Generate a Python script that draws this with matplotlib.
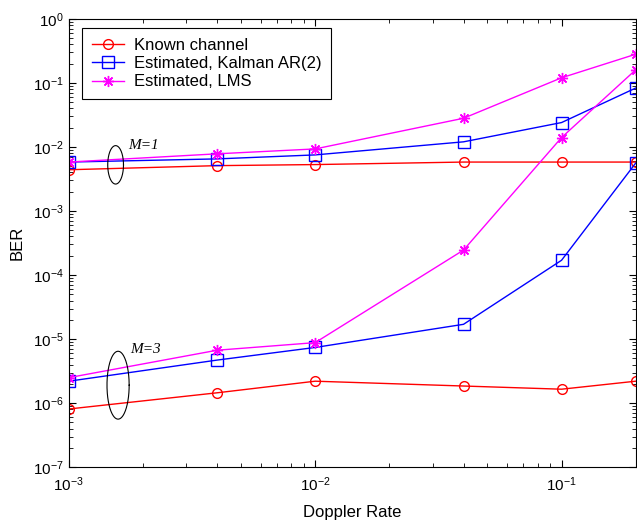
import matplotlib
matplotlib.use("Agg")
import matplotlib.pyplot as plt
import numpy as np

plt.rcParams['font.family'] = ['Liberation Sans', 'DejaVu Sans']
plt.rcParams['mathtext.fontset'] = 'custom'
plt.rcParams['mathtext.rm'] = 'Liberation Sans'
plt.rcParams['mathtext.it'] = 'Liberation Sans:italic'

# Doppler rates
doppler = [1e-3, 4e-3, 1e-2, 4e-2, 1e-1, 2e-1]

# M = 1
known_m1 = [4.4e-3, 5.1e-3, 5.3e-3, 5.8e-3, 5.8e-3, 5.8e-3]
kalman_m1 = [5.8e-3, 6.5e-3, 7.5e-3, 1.2e-2, 2.4e-2, 8.3e-2]
lms_m1 = [5.8e-3, 7.8e-3, 9.3e-3, 2.8e-2, 1.2e-1, 2.8e-1]

# M = 3
known_m3 = [8.1e-7, 1.45e-6, 2.2e-6, 1.85e-6, 1.65e-6, 2.2e-6]
kalman_m3 = [2.2e-6, 4.7e-6, 7.4e-6, 1.7e-5, 1.7e-4, 5.6e-3]
lms_m3 = [2.5e-6, 6.7e-6, 8.8e-6, 2.45e-4, 1.4e-2, 1.6e-1]

fig = plt.figure(figsize=(6.37, 5.22), dpi=100)
ax = fig.add_axes([0.108, 0.105, 0.89, 0.859])

star = (8, 2, 0)  # matlab-style asterisk
ax.loglog(doppler, known_m1, '-o', color='red', mfc='none', ms=7, lw=1, label='Known channel')
ax.loglog(doppler, kalman_m1, '-s', color='blue', mfc='none', ms=8, lw=1, label='Estimated, Kalman AR(2)')
ax.loglog(doppler, lms_m1, '-', marker=star, color='magenta', ms=8, mew=1, lw=1, label='Estimated, LMS')
ax.loglog(doppler, known_m3, '-o', color='red', mfc='none', ms=7, lw=1)
ax.loglog(doppler, kalman_m3, '-s', color='blue', mfc='none', ms=8, lw=1)
ax.loglog(doppler, lms_m3, '-', marker=star, color='magenta', ms=8, mew=1, lw=1)

# ellipses marking the two groups (drawn in log space)
t = np.linspace(0, 2 * np.pi, 200)
ax.plot(10 ** (-2.81 + 0.032 * np.cos(t)), 10 ** (-2.28 + 0.30 * np.sin(t)), color='black', lw=0.8)
ax.plot(10 ** (-2.80 + 0.045 * np.cos(t)), 10 ** (-5.72 + 0.53 * np.sin(t)), color='black', lw=0.8)
ax.text(1.74e-3, 1.07e-2, 'M=1', family='Liberation Serif', style='italic', fontsize=11, va='center')
ax.text(1.77e-3, 6.8e-6, 'M=3', family='Liberation Serif', style='italic', fontsize=11, va='center')

ax.set_xlim(1e-3, 2e-1)
ax.set_ylim(1e-7, 1e0)
ax.set_xlabel('Doppler Rate', fontsize=12, labelpad=8)
ax.set_ylabel('BER', fontsize=12, labelpad=6)
ax.tick_params(which='both', direction='in', top=True, right=True, labelsize=11)
ax.tick_params(which='major', length=5)
ax.tick_params(which='minor', length=3)
ax.tick_params(axis='x', pad=6)

leg = ax.legend(loc='upper left', bbox_to_anchor=(0.023, 0.98), fontsize=12, fancybox=False,
                edgecolor='black', framealpha=1, borderaxespad=0, handlelength=1.9,
                handletextpad=0.6, labelspacing=0.2, borderpad=0.6)
leg.get_frame().set_linewidth(0.8)

fig.savefig('out.png', dpi=100)
